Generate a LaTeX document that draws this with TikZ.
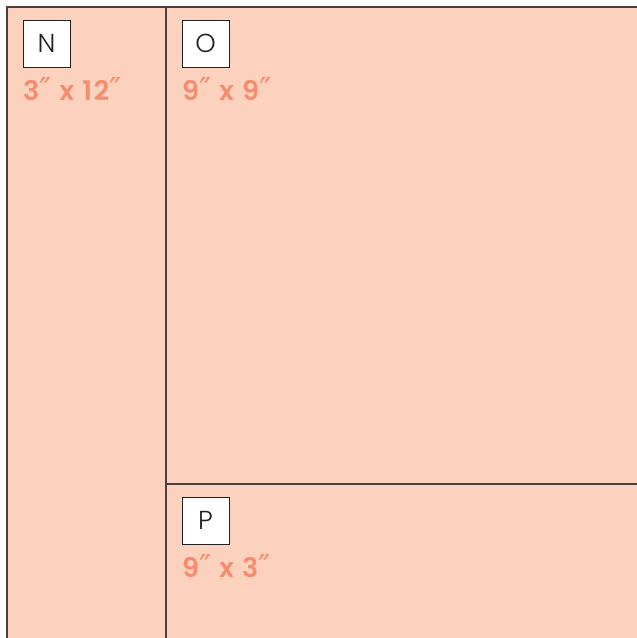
\documentclass[tikz,border=0pt]{standalone}
\usepackage{fontspec}
\setmainfont{Poppins}
\newfontfamily\dimfont{Poppins SemiBold}[LetterSpace=6]
\newfontfamily\tagfont{Poppins Light}
\newfontfamily\primefont{DejaVu Sans}
\newcommand{\inch}{\raisebox{-1.5pt}{\primefont\fontsize{33}{33}\selectfont ″}}
\definecolor{peach}{HTML}{FCD2BF}
\definecolor{salmon}{HTML}{F58C6E}
\definecolor{edge}{HTML}{4A3E3E}
\definecolor{ink}{HTML}{222222}
\tikzset{
  x=1pt,y=-1pt,
  tag/.style={draw=ink,fill=white,line width=1pt,minimum width=47pt,minimum height=47pt,inner sep=0pt,font=\tagfont\fontsize{26}{26}\selectfont,text=ink},
  dim/.style={anchor=base west,inner sep=0pt,text=salmon,font=\dimfont\fontsize{27}{27}\selectfont},
  wall/.style={draw=edge,line width=2pt}
}
\begin{document}
\begin{tikzpicture}
\useasboundingbox (0,0) rectangle (637,638);
\fill[white] (0,0) rectangle (637,638);
\fill[peach] (7,7) rectangle (645,645);
\draw[wall] (645,7) -- (7,7) -- (7,645);
\draw[wall] (165.5,7) -- (165.5,645);
\draw[wall] (165.5,483.5) -- (645,483.5);
\node[tag] (n) at (46.5,43.5) {N};
\node[dim] (nd) at (23,100) {3\inch{} x 12\inch};
\node[tag] (o) at (205.5,43.5) {O};
\node[dim] (od) at (182,100) {9\inch{} x 9\inch};
\node[tag] (p) at (205.5,520.5) {P};
\node[dim] (pd) at (182,577) {9\inch{} x 3\inch};
\end{tikzpicture}
\end{document}
